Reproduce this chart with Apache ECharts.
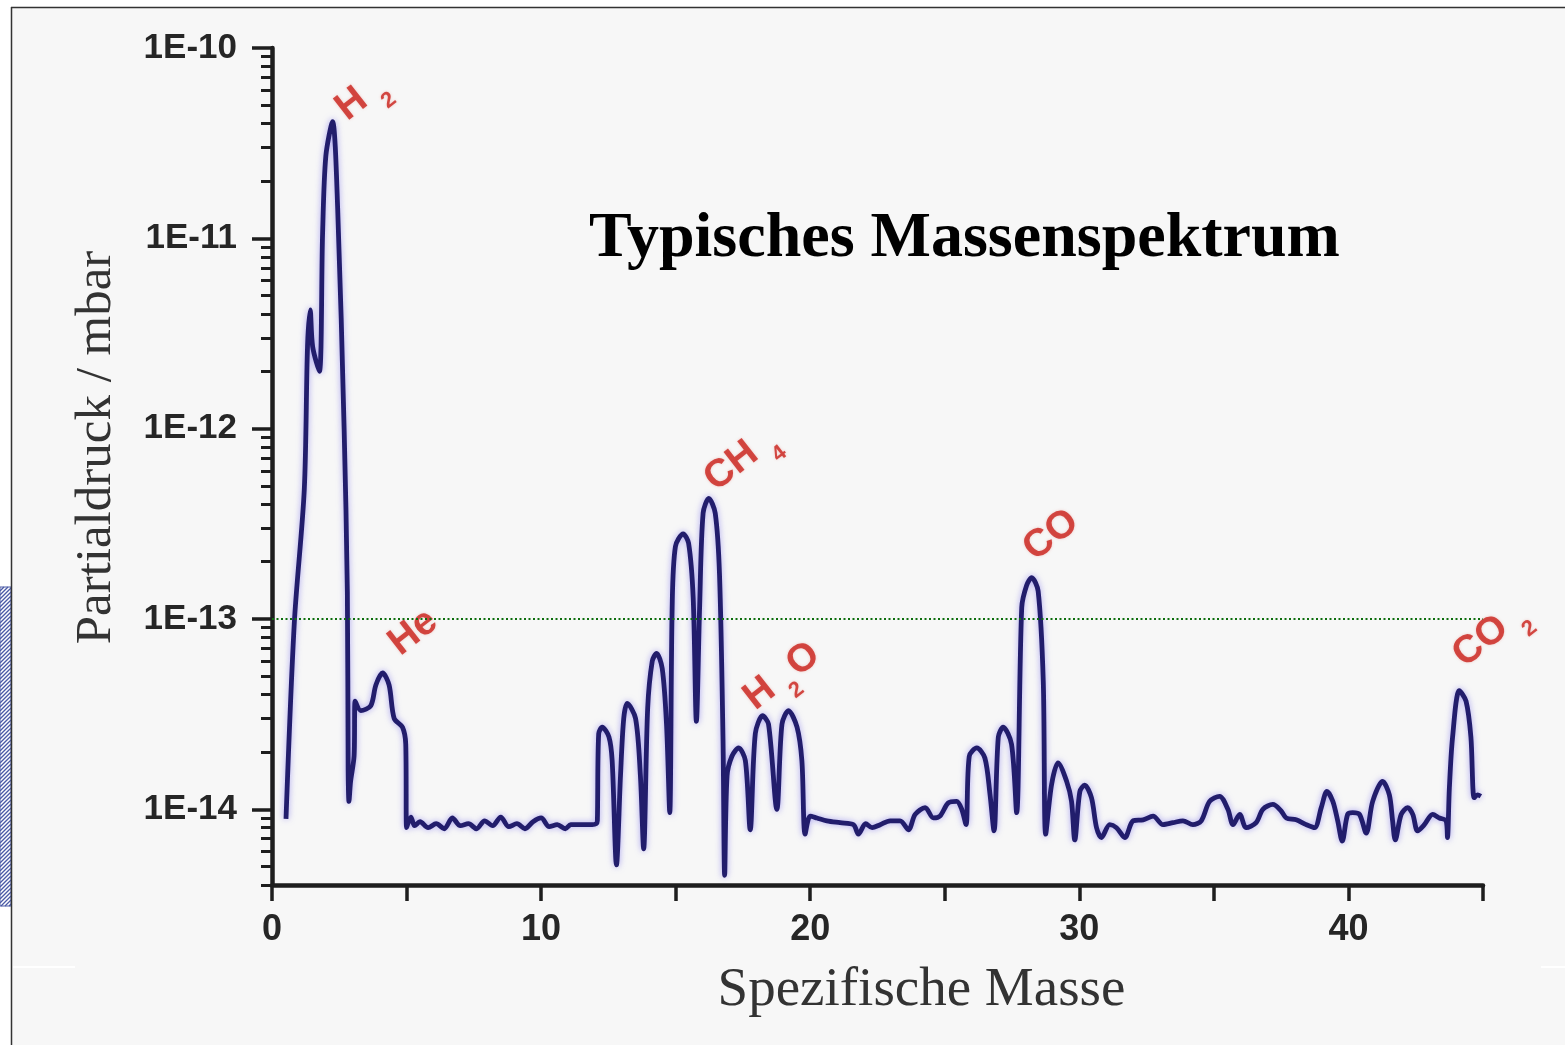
<!DOCTYPE html>
<html>
<head>
<meta charset="utf-8">
<script src="https://cdn.jsdelivr.net/npm/echarts@6/dist/echarts.min.js"></script>
<style>
html,body{margin:0;padding:0;background:#ffffff;}
#chart{width:1565px;height:1045px;}
</style>
</head>
<body>
<div id="chart"></div>
<script>
// ---- data ----
const massX = [
  0.52,0.83,1.20,1.32,1.42,1.51,1.76,1.88,2.00,2.25,2.44,2.68,2.80,2.83,2.86,2.92,3.05,3.09,3.30,3.67,3.86,4.11,4.35,4.54,4.85,4.97,5.00,5.16,
  5.3,5.5,5.8,6.1,6.4,6.7,7.0,7.3,7.6,7.9,8.2,8.5,8.8,9.1,9.4,9.7,10.0,10.3,10.6,10.9,11.1,11.5,11.9,12.05,
  12.09,12.14,12.27,12.52,12.64,12.80,12.95,13.07,13.20,13.51,13.69,13.81,13.96,14.13,14.29,14.50,14.66,14.78,
  14.87,14.99,15.28,15.48,15.65,15.77,15.89,16.02,16.23,16.47,16.63,16.76,16.82,16.91,17.09,17.34,17.59,17.77,
  17.96,18.23,18.45,18.76,18.95,19.19,19.51,19.69,19.81,20.00,20.25,20.62,21.11,21.61,21.79,22.06,22.30,22.60,
  22.97,23.34,23.65,23.90,24.27,24.58,24.82,25.13,25.44,25.63,25.79,25.91,26.19,26.49,26.68,26.83,26.99,27.17,
  27.48,27.67,27.86,28.04,28.23,28.47,28.66,28.75,28.97,29.21,29.53,29.71,29.83,30.02,30.20,30.45,30.64,30.82,
  31.13,31.38,31.69,32.00,32.37,32.74,33.11,33.48,33.85,34.22,34.53,34.84,35.21,35.52,35.71,35.96,36.20,36.57,
  36.82,37.19,37.50,37.69,38.06,38.43,38.74,38.99,39.20,39.42,39.60,39.77,39.97,40.16,40.41,40.66,40.90,41.27,
  41.52,41.64,41.74,41.96,42.20,42.39,42.57,42.82,43.13,43.38,43.63,43.68,43.75,43.87,44.12,44.37,44.55,44.67,
  44.80,44.92
];
const partialPressure = [
  8.9e-15,9.6e-14,4.8e-13,2.7e-12,4.2e-12,2.7e-12,2.0e-12,1.06e-11,2.7e-11,4.1e-11,1.44e-11,1.0e-12,1.39e-13,1.6e-14,1.1e-14,1.4e-14,1.9e-14,3.7e-14,3.3e-14,3.5e-14,4.5e-14,5.2e-14,4.5e-14,3.0e-14,2.7e-14,2.2e-14,8.0e-15,9.1e-15,
  8.2e-15,8.6e-15,8.0e-15,8.4e-15,7.9e-15,9.0e-15,8.2e-15,8.4e-15,7.9e-15,8.7e-15,8.2e-15,9.1e-15,8.1e-15,8.4e-15,7.9e-15,8.6e-15,9.0e-15,8.1e-15,8.3e-15,7.9e-15,8.3e-15,8.3e-15,8.3e-15,8.4e-15,
  8.7e-15,2.5e-14,2.7e-14,2.4e-14,1.8e-14,5.1e-15,1.5e-14,3.0e-14,3.6e-14,3.0e-14,1.5e-14,6.2e-15,3.4e-14,6.0e-14,6.6e-14,5.5e-14,2.8e-14,9.6e-15,
  1.15e-13,2.4e-13,2.8e-13,2.5e-13,1.3e-13,2.9e-14,1.15e-13,3.6e-13,4.3e-13,3.6e-13,1.7e-13,2.3e-14,4.5e-15,1.5e-14,1.9e-14,2.1e-14,1.8e-14,7.8e-15,
  2.5e-14,3.1e-14,2.8e-14,1.0e-14,2.8e-14,3.3e-14,2.7e-14,1.8e-14,7.4e-15,9.2e-15,9.0e-15,8.7e-15,8.5e-15,8.3e-15,7.4e-15,8.4e-15,8.0e-15,8.3e-15,
  8.7e-15,8.7e-15,7.8e-15,9.4e-15,1.02e-14,9.0e-15,9.2e-15,1.08e-14,1.1e-14,1.0e-14,8.3e-15,1.9e-14,2.1e-14,1.86e-14,1.2e-14,7.7e-15,2.4e-14,2.7e-14,
  2.2e-14,9.6e-15,1.15e-13,1.5e-13,1.65e-13,1.4e-13,4.7e-14,7.4e-15,1.35e-14,1.75e-14,1.4e-14,1.1e-14,6.9e-15,1.24e-14,1.34e-14,1.15e-14,8.0e-15,7.1e-15,
  8.3e-15,8.0e-15,7.1e-15,8.7e-15,8.8e-15,9.2e-15,8.3e-15,8.5e-15,8.7e-15,8.3e-15,8.7e-15,1.1e-14,1.17e-14,1.0e-14,8.3e-15,9.4e-15,8.0e-15,8.5e-15,
  1.0e-14,1.06e-14,9.8e-15,9.0e-15,8.8e-15,8.3e-15,8.0e-15,1.02e-14,1.24e-14,1.1e-14,8.7e-15,6.8e-15,9.4e-15,9.6e-15,9.4e-15,7.5e-15,1.1e-14,1.4e-14,
  1.19e-14,8.7e-15,6.9e-15,9.4e-15,1.02e-14,9.4e-15,7.7e-15,8.3e-15,9.4e-15,9.0e-15,8.7e-15,7.1e-15,1.29e-14,2.4e-14,4.2e-14,3.7e-14,2.4e-14,1.15e-14,
  1.19e-14,1.17e-14
];
// peak annotations
const peakLabels   = ['{m|H}{s|2}', '{m|He}', '{m|CH}{s|4}', '{m|H}{s|2}{m|O}', '{m|CO}', '{m|CO}{s|2}'];
const peakLabelX   = [3.35, 5.25, 17.45, 18.95, 28.95, 45.3];
const peakLabelP   = [5.6e-11, 8.5e-14, 7.0e-13, 5.0e-14, 2.75e-13, 8.4e-14];
// axis ticks
const xTickLabels  = [0, 10, 20, 30, 40];
const yTickExponents = [-14, -13, -12, -11, -10];
const referenceLevel = 1e-13;

const xMin = 0, xMax = 45;
const yMin = Math.log10(4e-15), yMax = -10;

// log-scale positions of minor ticks (2..9 of each decade)
const minorTicks = [];
for (let n = -15; n <= -11; n++) {
  for (let k = 2; k <= 9; k++) {
    const v = Math.log10(k) + n;
    if (v >= yMin - 1e-9 && v <= yMax) minorTicks.push(v);
  }
}

const lineData = massX.map((x, i) => [x, Math.log10(partialPressure[i])]);
const labelData = peakLabels.map((t, i) => ({
  value: [peakLabelX[i], Math.log10(peakLabelP[i])],
  label: { formatter: t }
}));

// hatch lines for the small striped box on the left edge
const hatch = [];
const hx0 = 0, hx1 = 11, hy0 = 587, hy1 = 906;
for (let c = hy0; c <= hy1 + (hx1 - hx0); c += 4) {
  const xa = Math.max(hx0, c - hy1), xb = Math.min(hx1, c - hy0);
  if (xb > xa) hatch.push({ type: 'line', z: -5, shape: { x1: xa, y1: c - xa, x2: xb, y2: c - xb },
    style: { stroke: '#4a5aa6', lineWidth: 1.3 } });
}

const chart = echarts.init(document.getElementById('chart'), null, { renderer: 'canvas' });
const red = '#c9201a';
const sans = "'Liberation Sans', Arial, sans-serif";
const serif = "'Liberation Serif', 'Times New Roman', serif";
chart.setOption({
  animation: false,
  backgroundColor: 'transparent',
  title: {
    text: 'Typisches Massenspektrum',
    left: 584, top: 202,
    textStyle: { fontFamily: serif, fontWeight: 'bold', fontSize: 64, color: '#000' }
  },
  graphic: [
    { type: 'rect', z: -20, shape: { x: 11, y: 7, width: 1554, height: 1038 }, style: { fill: '#f7f7f7' } },
    { type: 'line', z: -4, shape: { x1: 11, y1: 7.5, x2: 1565, y2: 7.5 }, style: { stroke: '#333', lineWidth: 1.5 } },
    { type: 'line', z: -4, shape: { x1: 11.5, y1: 7, x2: 11.5, y2: 1045 }, style: { stroke: '#333', lineWidth: 1.5 } },
    { type: 'rect', z: -6, shape: { x: 0, y: hy0, width: 11, height: hy1 - hy0 }, style: { fill: '#ffffff', stroke: '#4a5aa6', lineWidth: 1 } },
    ...hatch,
    { type: 'line', z: -4, shape: { x1: 13, y1: 967, x2: 75, y2: 967 }, style: { stroke: '#ffffff', lineWidth: 2 } },
    { type: 'line', z: -4, shape: { x1: 1541, y1: 967, x2: 1565, y2: 967 }, style: { stroke: '#ffffff', lineWidth: 2 } }
  ],
  grid: { left: 272, right: 82, top: 48, bottom: 160, containLabel: false, outerBoundsMode: 'none' },
  xAxis: {
    type: 'value', min: xMin, max: xMax, interval: 5,
    name: 'Spezifische Masse', nameLocation: 'middle', nameGap: 78,
    nameTextStyle: { fontFamily: serif, fontSize: 55, color: '#333', padding: [0, 0, 0, 88] },
    axisLine: { show: true, onZero: false, lineStyle: { color: '#1e1e1e', width: 4.5 } },
    axisTick: { show: true, length: 16, lineStyle: { color: '#1e1e1e', width: 3.5 } },
    axisLabel: {
      margin: 27, fontFamily: sans, fontWeight: 'bold', fontSize: 36, color: '#262626',
      formatter: v => (xTickLabels.indexOf(v) >= 0 ? String(v) : '')
    },
    splitLine: { show: false }
  },
  yAxis: [
    {
      type: 'value', min: yMin, max: yMax, position: 'left',
      name: 'Partialdruck / mbar', nameLocation: 'middle', nameGap: 150,
      nameTextStyle: { fontFamily: serif, fontSize: 51, color: '#333', padding: [0, 0, 0, 38] },
      axisLine: { show: true, onZero: false, lineStyle: { color: '#1e1e1e', width: 4.5 } },
      axisTick: { show: true, length: 20, customValues: yTickExponents, lineStyle: { color: '#1e1e1e', width: 3.5 } },
      axisLabel: {
        customValues: yTickExponents, margin: 35,
        fontFamily: sans, fontWeight: 'bold', fontSize: 35, color: '#262626',
        formatter: v => '1E' + Math.round(v)
      },
      splitLine: { show: false }
    },
    {
      type: 'value', min: yMin, max: yMax, position: 'left',
      axisLine: { show: false },
      axisTick: { show: true, length: 11, customValues: minorTicks, lineStyle: { color: '#1e1e1e', width: 3 } },
      axisLabel: { show: false },
      splitLine: { show: false }
    }
  ],
  series: [
    {
      type: 'line', name: 'Spektrum', data: lineData, yAxisIndex: 0,
      showSymbol: false, smooth: 0.3,
      lineStyle: { color: '#221d6c', width: 4.8, shadowColor: 'rgba(120,110,235,0.6)', shadowBlur: 6 },
      markLine: {
        silent: true, symbol: ['none', 'none'], label: { show: false },
        lineStyle: { color: '#0d6e0d', type: [2, 2.5], width: 2 },
        data: [{ yAxis: Math.log10(referenceLevel) }]
      },
      z: 3
    },
    {
      type: 'scatter', data: labelData, yAxisIndex: 0, symbol: 'circle', symbolSize: 2, clip: false,
      itemStyle: { color: 'rgba(0,0,0,0)' }, silent: true,
      label: {
        show: true, position: 'inside', rotate: 38, color: red,
        rich: {
          m: { fontFamily: sans, fontWeight: 'bold', fontSize: 39, lineHeight: 42, color: red, verticalAlign: 'middle',
               textShadowColor: 'rgba(230,120,110,0.45)', textShadowBlur: 3 },
          s: { fontFamily: sans, fontWeight: 'bold', fontSize: 22, lineHeight: 22, color: red, verticalAlign: 'middle',
               padding: [40, 3, 0, 11], textShadowColor: 'rgba(230,120,110,0.45)', textShadowBlur: 3 }
        }
      },
      z: 4
    }
  ]
});
</script>
</body>
</html>
